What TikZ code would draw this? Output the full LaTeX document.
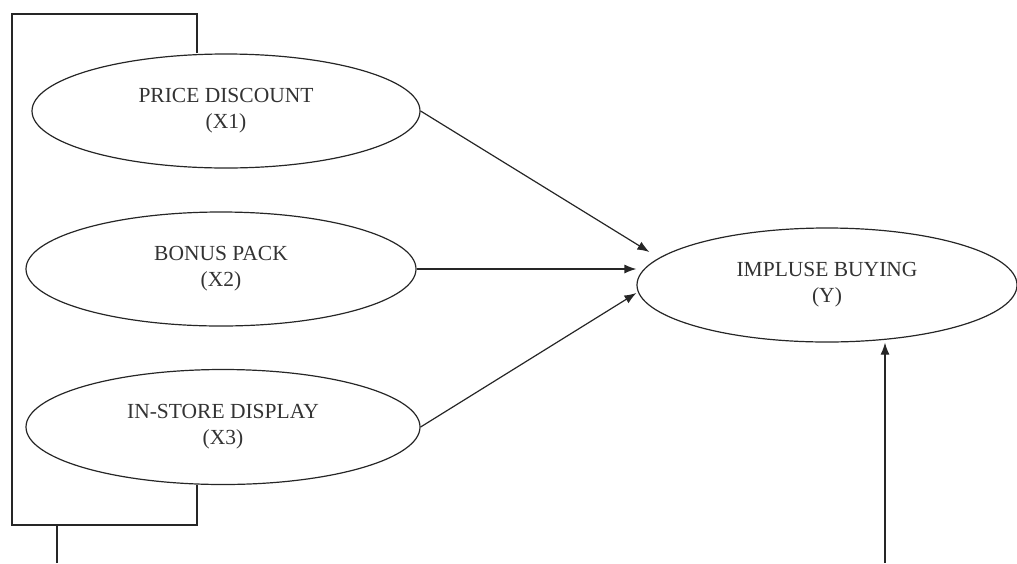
\documentclass[tikz,border=0pt]{standalone}
\usepackage{fontspec}
\setmainfont{Liberation Serif}
\usetikzlibrary{calc}
\usetikzlibrary{arrows.meta}
\usetikzlibrary{shapes.geometric}

\begin{document}
\begin{tikzpicture} [x=1pt, y=-1pt,
  var/.style={ellipse, draw=black!85, line width=1.2pt, align=center, inner sep=0,
    font=\fontsize{21.5}{26}\selectfont, text=black!80},
  line/.style={draw=black!85, line width=1.2pt},
  arr/.style={line, -{Latex[length=12pt, width=9pt]}}]
\useasboundingbox (0,0) rectangle (1017,563);
\node[var, minimum width=388, minimum height=114] (disc) at (226,111) {PRICE DISCOUNT\\(X1)};
\node[var, minimum width=390, minimum height=114] (bonus) at (221,269) {BONUS PACK\\(X2)};
\node[var, minimum width=394, minimum height=115] (display) at (223,427) {IN-STORE DISPLAY\\(X3)};
\node[var, minimum width=380, minimum height=114] (impulse) at (827,285) {IMPLUSE BUYING\\(Y)};
% paths into Y
\draw[arr] (disc.east) -- ([shift={(13,-33)}]impulse.west);
\draw[arr] (bonus.east) -- (bonus.east -| impulse.west);
\draw[arr] (display.east) -- ([shift={(0,8)}]impulse.west);
% bracket round X1..X3
\coordinate (tl) at (12,14);
\coordinate (tr) at (197,14);
\coordinate (bl) at (12,525);
\coordinate (br) at (197,525);
\draw[line] (disc.north -| tr) -- (tr) -- (tl) -- (bl) -- (br) -- (display.south -| br);
\coordinate (fb) at (57,563);
\draw[line] (fb) -- (fb |- bl);
\coordinate (fy) at (885,563);
\draw[arr] (fy) -- (fy |- impulse.south);
\end{tikzpicture}
\end{document}
